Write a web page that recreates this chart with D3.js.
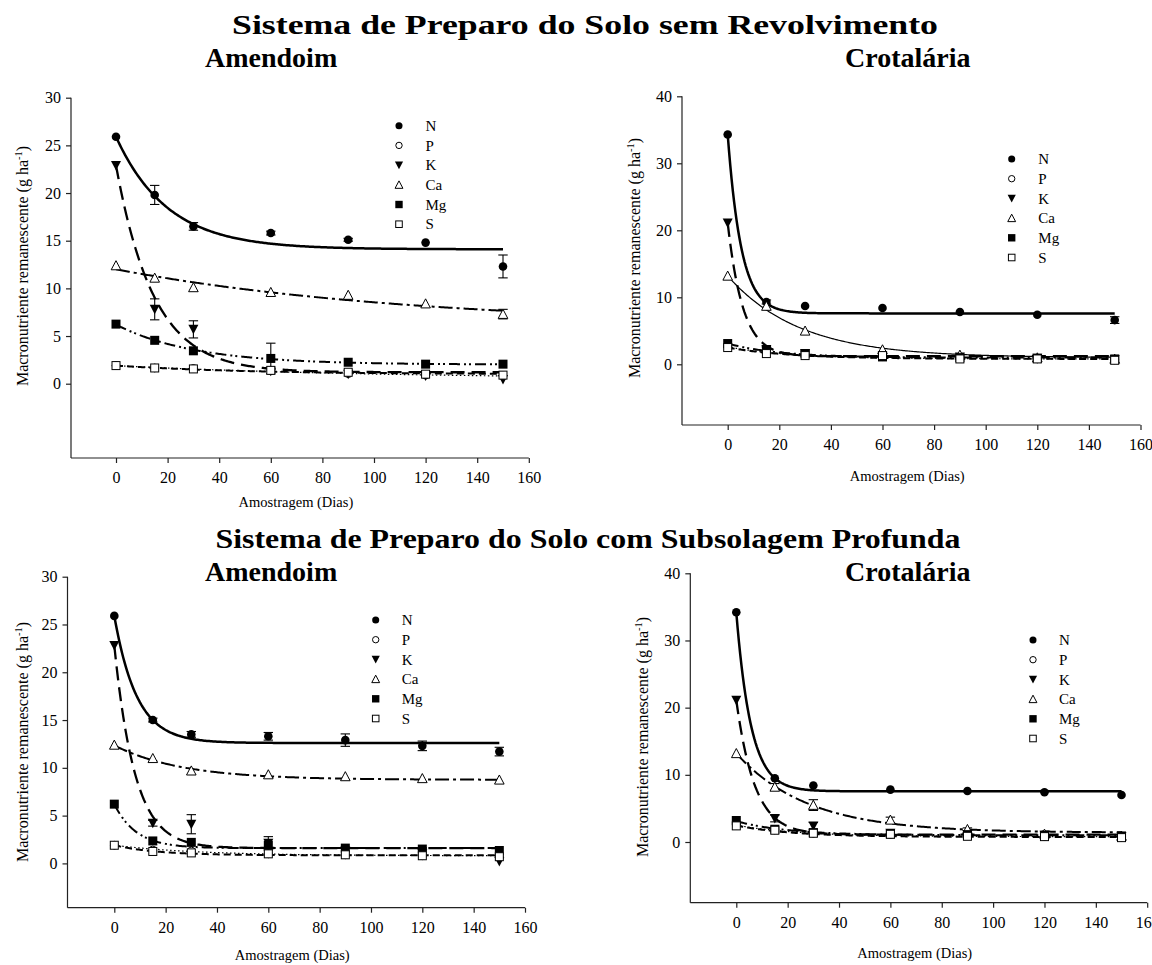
<!DOCTYPE html>
<html><head><meta charset="utf-8">
<script src="https://cdn.jsdelivr.net/npm/d3@7"></script>
<style>
body{margin:0;background:#fff}
svg{display:block}
svg text{font-family:"Liberation Serif","Times New Roman",serif !important;fill:#000}
</style>
</head><body>
<svg id="c" width="1152" height="965"></svg>
<script>
// ---------------- DATA ----------------
const days = [0, 15, 30, 60, 90, 120, 150];
const xTicks = [0, 20, 40, 60, 80, 100, 120, 140, 160];
const yTicksAmendoim = [0, 5, 10, 15, 20, 25, 30];
const yTicksCrotalaria = [0, 10, 20, 30, 40];
const nutrients = ["N", "P", "K", "Ca", "Mg", "S"];

// Sem revolvimento - Amendoim
const semAmN  = [25.9, 19.8, 16.5, 15.8, 15.1, 14.8, 12.3];
const semAmNe = [0, 1.0, 0.4, 0.2, 0.15, 0, 1.2];
const semAmP  = [1.9, 1.65, 1.6, 1.35, 1.05, 0.9, 0.85];
const semAmK  = [22.9, 7.8, 5.7, 1.3, 1.0, 0.8, 0.45];
const semAmKe = [0, 1.1, 0.9, 0, 0, 0, 0];
const semAmCa = [12.4, 11.1, 10.1, 9.6, 9.3, 8.4, 7.3];
const semAmCae= [0, 0, 0, 0, 0, 0, 0.5];
const semAmMg = [6.25, 4.55, 3.45, 2.65, 2.25, 2.05, 2.05];
const semAmMge= [0, 0, 0, 1.6, 0, 0, 0];
const semAmS  = [1.9, 1.65, 1.55, 1.4, 1.2, 1.0, 0.9];
// fitted curves y = y0 + a*exp(-b*t): [y0, a, b]
const semAmFit = {N:[14.1,11.8,0.05], P:[0.5,1.4,0.01], K:[1.2,21.7,0.068], Ca:[6.0,6.0,0.0086], Mg:[2.0,4.2,0.033], S:[1.0,0.9,0.02]};

// Sem revolvimento - Crotalaria
const semCrN  = [34.3, 9.3, 8.7, 8.4, 7.8, 7.4, 6.6];
const semCrNe = [0, 0.3, 0, 0, 0, 0, 0.5];
const semCrP  = [2.6, 1.8, 1.4, 1.2, 1.0, 0.8, 0.7];
const semCrK  = [21.1, 2.2, 1.6, 1.2, 1.1, 0.9, 0.7];
const semCrCa = [13.2, 8.7, 5.0, 2.2, 1.4, 1.0, 0.8];
const semCrMg = [3.1, 2.2, 1.6, 1.1, 1.0, 0.9, 0.8];
const semCrMge= [0, 0.4, 0.4, 0, 0, 0, 0];
const semCrS  = [2.5, 1.6, 1.3, 1.3, 0.8, 0.8, 0.6];
const semCrFit = {N:[7.6,26.7,0.19], P:[0.8,1.8,0.04], K:[1.2,19.9,0.17], Ca:[1.0,12.2,0.036], Mg:[1.0,2.1,0.05], S:[0.8,1.7,0.04]};

// Subsolagem - Amendoim
const subAmN  = [25.9, 15.0, 13.5, 13.3, 12.9, 12.3, 11.7];
const subAmNe = [0, 0.2, 0.3, 0.4, 0.65, 0.5, 0.45];
const subAmP  = [1.9, 1.4, 1.3, 1.0, 0.9, 0.8, 0.7];
const subAmK  = [22.8, 4.2, 4.1, 2.1, 1.3, 1.0, 0.2];
const subAmKe = [0, 0.3, 1.0, 0.7, 0, 0, 0];
const subAmCa = [12.4, 11.0, 9.7, 9.3, 9.1, 8.9, 8.75];
const subAmMg = [6.2, 2.35, 2.2, 1.9, 1.6, 1.5, 1.35];
const subAmS  = [1.9, 1.25, 1.1, 1.0, 0.9, 0.8, 0.7];
const subAmFit = {N:[12.6,13.3,0.114], P:[0.8,1.1,0.03], K:[1.6,21.2,0.124], Ca:[8.75,3.6,0.038], Mg:[1.6,4.6,0.117], S:[0.85,1.05,0.06]};

// Subsolagem - Crotalaria
const subCrN  = [34.2, 9.5, 8.4, 7.8, 7.6, 7.4, 7.0];
const subCrP  = [2.5, 1.8, 1.3, 1.1, 1.0, 0.8, 0.7];
const subCrK  = [21.1, 3.5, 2.4, 1.3, 1.1, 1.0, 0.8];
const subCrKe = [0, 0.5, 0.5, 0, 0, 0, 0];
const subCrCa = [13.2, 8.2, 5.5, 3.3, 1.9, 1.2, 0.9];
const subCrCae= [0, 0.5, 0.8, 0.4, 0.2, 0, 0];
const subCrMg = [3.2, 1.9, 1.4, 1.2, 1.1, 1.0, 0.9];
const subCrS  = [2.4, 1.75, 1.3, 1.15, 0.85, 0.8, 0.65];
const subCrFit = {N:[7.55,26.6,0.174], P:[0.8,1.7,0.04], K:[1.1,20.0,0.139], Ca:[1.4,11.8,0.036], Mg:[1.0,2.1,0.05], S:[0.75,1.7,0.045]};

const titles = ["Sistema de Preparo do Solo sem Revolvimento", "Sistema de Preparo do Solo com Subsolagem Profunda"];
const cropNames = ["Amendoim", "Crotalária"];

// ---------------- LAYOUT ----------------
const panels = [
  {vals:{N:semAmN,P:semAmP,K:semAmK,Ca:semAmCa,Mg:semAmMg,S:semAmS}, errs:{N:semAmNe,K:semAmKe,Ca:semAmCae,Mg:semAmMge}, fit:semAmFit,
   yTicks:yTicksAmendoim, yMax:30, axX:71, xr:[116,528.8], yr:[383.7,97.7], axY:458, titleOff:49, ylabX:28, ylabY:266, leg:{x:399,tx:425.5,y:125.7}, caSolid:false},
  {vals:{N:semCrN,P:semCrP,K:semCrK,Ca:semCrCa,Mg:semCrMg,S:semCrS}, errs:{N:semCrNe,Mg:semCrMge}, fit:semCrFit,
   yTicks:yTicksCrotalaria, yMax:40, axX:682, xr:[727.7,1140.5], yr:[364.3,96.3], axY:425, titleOff:56, ylabX:640, ylabY:258, leg:{x:1011.7,tx:1038.3,y:159}, caSolid:true},
  {vals:{N:subAmN,P:subAmP,K:subAmK,Ca:subAmCa,Mg:subAmMg,S:subAmS}, errs:{N:subAmNe,K:subAmKe}, fit:subAmFit,
   yTicks:yTicksAmendoim, yMax:30, axX:67.5, xr:[114.3,525], yr:[863.4,576.7], axY:907.7, titleOff:52, ylabX:28, ylabY:742, leg:{x:375.7,tx:401.7,y:620}, caSolid:false},
  {vals:{N:subCrN,P:subCrP,K:subCrK,Ca:subCrCa,Mg:subCrMg,S:subCrS}, errs:{K:subCrKe,Ca:subCrCae}, fit:subCrFit,
   yTicks:yTicksCrotalaria, yMax:40, axX:690.3, xr:[736.3,1147.2], yr:[842,573.3], axY:902.7, titleOff:55, ylabX:648, ylabY:737, leg:{x:1033,tx:1059,y:640}, caSolid:false}
];

const svg = d3.select("#c");
const axisColor = "#222";
const serif = "'Liberation Serif','Times New Roman',serif";

const lineStyle = {
  N:{w:2.5, dash:null},
  P:{w:1.2, dash:"1.5,2.5"},
  K:{w:2.3, dash:"14,7"},
  Ca:{w:2.0, dash:"14,4,3,4"},
  Mg:{w:2.0, dash:"11,4,2,3,2,4"},
  S:{w:2.0, dash:"7,4"}
};

function drawMarker(g, n, x, y, s) {
  s = s || 1;
  if (n === "N") g.append("circle").attr("cx",x).attr("cy",y).attr("r",4.3*s).attr("fill","#000");
  else if (n === "P") g.append("circle").attr("cx",x).attr("cy",y).attr("r",3.9*s).attr("fill","#fff").attr("stroke","#000").attr("stroke-width",1);
  else if (n === "K") g.append("path").attr("d",`M${x-5*s},${y-4.5*s}L${x+5*s},${y-4.5*s}L${x},${y+5*s}Z`).attr("fill","#000");
  else if (n === "Ca") g.append("path").attr("d",`M${x-4.8*s},${y+4.3*s}L${x+4.8*s},${y+4.3*s}L${x},${y-4.8*s}Z`).attr("fill","#fff").attr("stroke","#000").attr("stroke-width",1);
  else if (n === "Mg") g.append("rect").attr("x",x-4.5*s).attr("y",y-4.5*s).attr("width",9*s).attr("height",9*s).attr("fill","#000");
  else if (n === "S") g.append("rect").attr("x",x-4*s).attr("y",y-4*s).attr("width",8*s).attr("height",8*s).attr("fill","#fff").attr("stroke","#000").attr("stroke-width",1);
}

panels.forEach(p => {
  const x = d3.scaleLinear().domain([0,160]).range(p.xr);
  const y = d3.scaleLinear().domain([0,p.yMax]).range(p.yr);
  const g = svg.append("g");

  // axes
  const xAxis = g.append("g").attr("transform",`translate(0,${p.axY})`)
    .call(d3.axisBottom(x).tickValues(xTicks).tickSize(5).tickPadding(9).tickFormat(d3.format("d")));
  xAxis.select(".domain").remove();
  g.append("line").attr("x1",p.axX).attr("x2",p.xr[1]).attr("y1",p.axY).attr("y2",p.axY).attr("stroke",axisColor).attr("stroke-width",1.2);
  const yAxis = g.append("g").attr("transform",`translate(${p.axX},0)`)
    .call(d3.axisLeft(y).tickValues(p.yTicks).tickSize(5).tickPadding(5).tickFormat(d3.format("d")));
  yAxis.select(".domain").remove();
  g.append("line").attr("x1",p.axX).attr("x2",p.axX).attr("y1",p.yr[1]).attr("y2",p.axY).attr("stroke",axisColor).attr("stroke-width",1.2);
  [xAxis, yAxis].forEach(a => a.attr("font-family", serif).attr("font-size", 16));
  g.selectAll(".tick line").attr("stroke",axisColor).attr("stroke-width",1.2);
  g.selectAll(".tick text").style("font-family",serif).style("font-size","16px").attr("fill","#000");

  // axis titles
  g.append("text").attr("x",(p.axX+p.xr[1])/2 - 4).attr("y",p.axY+p.titleOff).attr("text-anchor","middle")
    .style("font-family",serif).style("font-size","14.5px").text("Amostragem (Dias)");
  const yl = g.append("text").attr("transform",`translate(${p.ylabX},${p.ylabY}) rotate(-90)`).attr("text-anchor","middle")
    .style("font-family",serif).style("font-size","16px");
  yl.append("tspan").text("Macronutriente remanescente (g ha");
  yl.append("tspan").attr("dy",-6).style("font-size","10.5px").text("-1");
  yl.append("tspan").attr("dy",6).text(")");

  // fitted curves
  const ts = d3.range(0, 150.01, 0.5);
  ["Ca","P","S","Mg","K","N"].forEach(n => {
    const f = p.fit[n];
    const line = d3.line().x(t => x(t)).y(t => y(f[0] + f[1]*Math.exp(-f[2]*t)));
    let st = lineStyle[n];
    if (n === "Ca" && p.caSolid) st = {w:1.2, dash:null};
    const path = g.append("path").attr("d",line(ts)).attr("fill","none").attr("stroke","#000").attr("stroke-width",st.w);
    if (st.dash) path.attr("stroke-dasharray",st.dash);
  });

  // error bars
  Object.keys(p.errs).forEach(n => {
    const v = p.vals[n], e = p.errs[n];
    days.forEach((d,i) => {
      if (!e[i]) return;
      const cx = x(d), y1 = y(v[i]-e[i]), y2 = y(v[i]+e[i]);
      g.append("line").attr("x1",cx).attr("x2",cx).attr("y1",y1).attr("y2",y2).attr("stroke","#000").attr("stroke-width",1.1);
      g.append("line").attr("x1",cx-4.7).attr("x2",cx+4.7).attr("y1",y1).attr("y2",y1).attr("stroke","#000").attr("stroke-width",1.1);
      g.append("line").attr("x1",cx-4.7).attr("x2",cx+4.7).attr("y1",y2).attr("y2",y2).attr("stroke","#000").attr("stroke-width",1.1);
    });
  });

  // markers
  nutrients.forEach(n => {
    p.vals[n].forEach((v,i) => drawMarker(g, n, x(days[i]), y(v)));
  });

  // legend
  nutrients.forEach((n,i) => {
    const ly = p.leg.y + i*19.7;
    drawMarker(g, n, p.leg.x, ly, 0.82);
    g.append("text").attr("x",p.leg.tx).attr("y",ly).attr("dy","0.35em").style("font-family",serif).style("font-size","15px").text(n);
  });
});

// titles
function title(txt, x, y, anchor, len) {
  const t = svg.append("text").attr("x",x).attr("y",y).attr("text-anchor",anchor)
    .style("font-family",serif).style("font-size","28px").style("font-weight","bold").text(txt);
  if (len) t.attr("textLength",len).attr("lengthAdjust","spacingAndGlyphs");
}
title(titles[0], 585, 34, "middle", 706);
title(cropNames[0], 205, 67, "start");
title(cropNames[1], 845, 67, "start");
title(titles[1], 588, 548, "middle", 745);
title(cropNames[0], 205, 581, "start");
title(cropNames[1], 845, 581, "start");
</script>
</body></html>
